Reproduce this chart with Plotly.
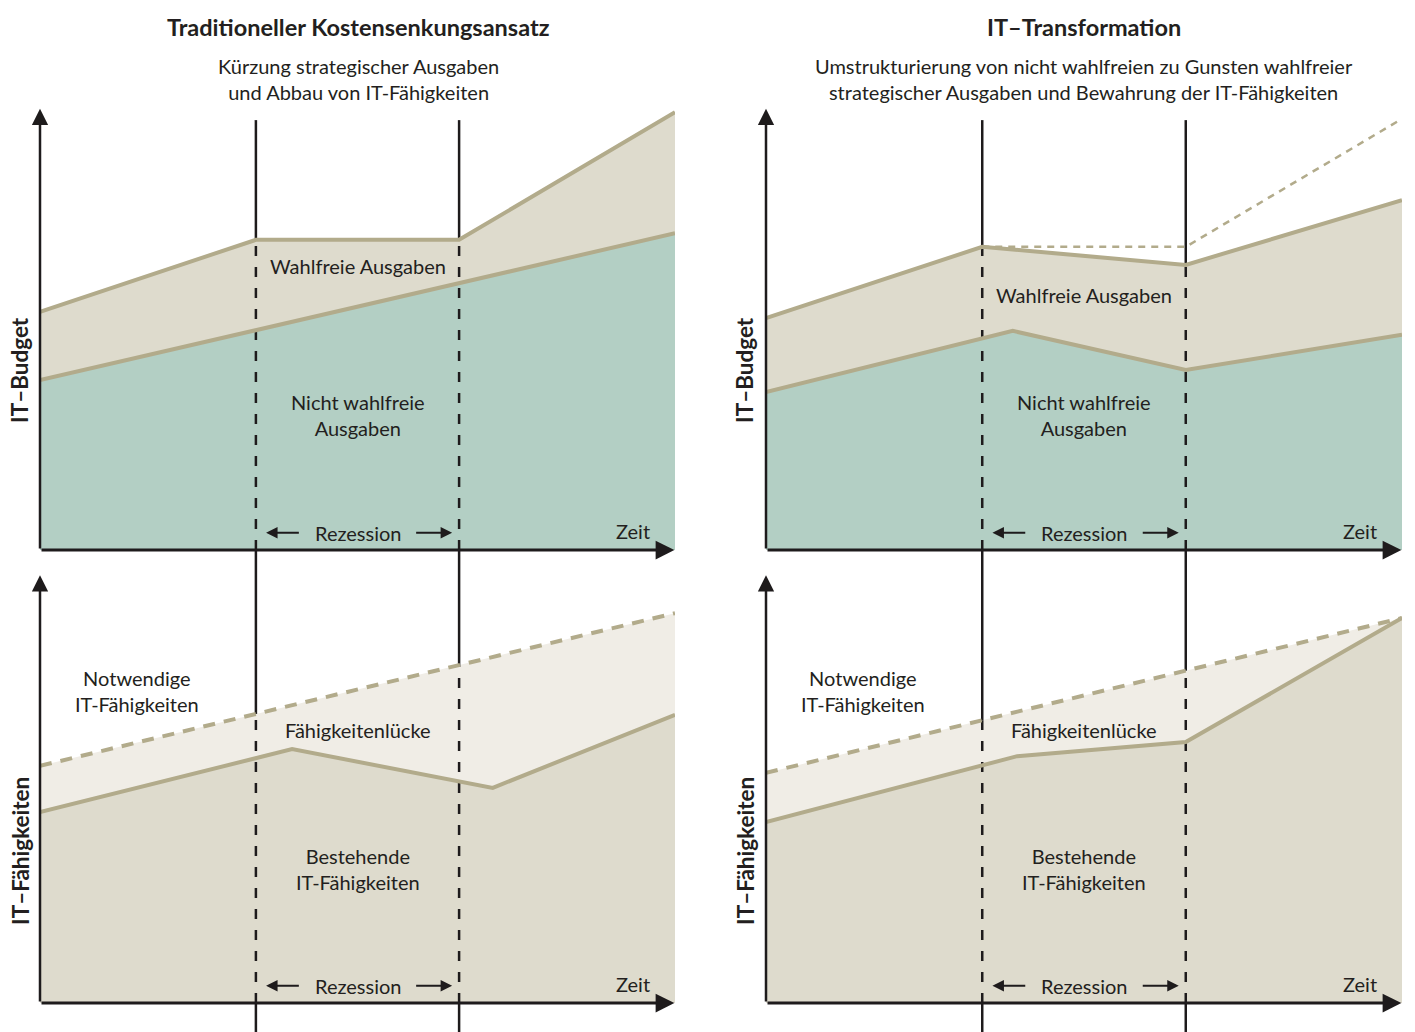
import numpy as np
import plotly.graph_objects as go

# ---------------- data (time 0..100, value units) ----------------
RECESSION = [34, 66]
LINE_TOP = 97.7

lt_nd_t = [0, 100]
lt_nd_v = [38.6, 72.0]
lt_disc_t = [0, 34, 66, 100]
lt_disc_v = [54.1, 70.5, 70.5, 99.5]

lb_req_t = [0, 100]
lb_req_v = [53.9, 88.6]
lb_ex_t = [0, 39.7, 71.3, 100]
lb_ex_v = [43.4, 57.7, 48.9, 65.5]

rt_nd_t = [0, 38.8, 66, 100]
rt_nd_v = [35.9, 49.8, 40.9, 48.9]
rt_disc_t = [0, 34, 66, 100]
rt_disc_v = [52.7, 68.9, 64.8, 79.5]
rt_old_t = [34, 66, 100]
rt_old_v = [68.9, 68.9, 98.0]

rb_req_t = [0, 100]
rb_req_v = [52.3, 87.5]
rb_ex_t = [0, 39.5, 66, 100]
rb_ex_v = [41.1, 56.1, 59.3, 87.5]

# ---------------- styling ----------------
W, H = 1415, 1032
FONT = "Lato"
TXT = "#231f20"
TEAL = "#b3cfc4"
BEIGE = "#dedbcd"
LIGHT = "#f0ede6"
TAN = "#b2ab8b"
BLACK = "#1e1b1c"
SCALE = 4.4          # px per value unit
TOP_BASE, BOT_BASE, GAP, TOP_EDGE = 550, 1003, 562, 100
COLS = {"L": (40, 675), "R": (766, 1402)}

def p(py):
    return 1 - py / H

fig = go.Figure()
layout_axes = {}
top_range = [(TOP_BASE - GAP) / SCALE, (TOP_BASE - TOP_EDGE) / SCALE]
bot_range = [(BOT_BASE - H) / SCALE, (BOT_BASE - GAP) / SCALE]
axdefs = [(1, "L", True), (2, "L", False), (3, "R", True), (4, "R", False)]
for i, col, top in axdefs:
    x0, x1 = COLS[col]
    layout_axes[f"xaxis{i if i > 1 else ''}"] = dict(
        domain=[x0 / W, x1 / W], range=[0, 100], visible=False, fixedrange=True,
        anchor=f"y{i if i > 1 else ''}")
    layout_axes[f"yaxis{i if i > 1 else ''}"] = dict(
        domain=[p(GAP), p(TOP_EDGE)] if top else [0, p(GAP)],
        range=top_range if top else bot_range, visible=False, fixedrange=True,
        anchor=f"x{i if i > 1 else ''}")

def ax(i):
    s = "" if i == 1 else str(i)
    return dict(xaxis="x" + s, yaxis="y" + s)

def fill_between(i, lo_t, lo_v, hi_t, hi_v, color):
    xs = list(hi_t) + list(lo_t)[::-1]
    ys = list(hi_v) + list(lo_v)[::-1]
    fig.add_trace(go.Scatter(x=xs, y=ys, fill="toself", fillcolor=color,
                             line=dict(width=0), mode="lines", hoverinfo="skip",
                             showlegend=False, **ax(i)))

def line(i, t, v, color, width, dash="solid"):
    fig.add_trace(go.Scatter(x=t, y=v, mode="lines",
                             line=dict(color=color, width=width, dash=dash),
                             hoverinfo="skip", showlegend=False, **ax(i)))

# fills
fill_between(1, [0, 100], [0, 0], lt_nd_t, lt_nd_v, TEAL)
fill_between(1, lt_nd_t, lt_nd_v, lt_disc_t, lt_disc_v, BEIGE)
fill_between(2, [0, 100], [0, 0], lb_ex_t, lb_ex_v, BEIGE)
fill_between(2, lb_ex_t, lb_ex_v, lb_req_t, lb_req_v, LIGHT)
fill_between(3, [0, 100], [0, 0], rt_nd_t, rt_nd_v, TEAL)
fill_between(3, rt_nd_t, rt_nd_v, rt_disc_t, rt_disc_v, BEIGE)
fill_between(4, [0, 100], [0, 0], rb_ex_t, rb_ex_v, BEIGE)
fill_between(4, rb_ex_t, rb_ex_v, rb_req_t, rb_req_v, LIGHT)

# recession markers
DASH = "10px,11px"
for top_i, bot_i, disc_t, disc_v, req_t, req_v in [
        (1, 2, lt_disc_t, lt_disc_v, lb_req_t, lb_req_v),
        (3, 4, rt_disc_t, rt_disc_v, rb_req_t, rb_req_v)]:
    for t in RECESSION:
        yt = float(np.interp(t, disc_t, disc_v))
        line(top_i, [t, t], [yt, LINE_TOP], BLACK, 2.5)
        line(top_i, [t, t], [0, yt], BLACK, 2.5, DASH)
        line(top_i, [t, t], [top_range[0], 0], BLACK, 2.5)
        yb = float(np.interp(t, req_t, req_v))
        line(bot_i, [t, t], [yb, bot_range[1]], BLACK, 2.5)
        line(bot_i, [t, t], [0, yb], BLACK, 2.5, DASH)
        line(bot_i, [t, t], [bot_range[0], 0], BLACK, 2.5)

# boundary lines
line(1, lt_nd_t, lt_nd_v, TAN, 4)
line(1, lt_disc_t, lt_disc_v, TAN, 4)
line(2, lb_ex_t, lb_ex_v, TAN, 4)
line(2, lb_req_t, lb_req_v, TAN, 4, "12px,9px")
line(3, rt_nd_t, rt_nd_v, TAN, 4)
line(3, rt_disc_t, rt_disc_v, TAN, 4)
line(3, rt_old_t, rt_old_v, TAN, 2.5, "7px,6px")
line(4, rb_ex_t, rb_ex_v, TAN, 4)
line(4, rb_req_t, rb_req_v, TAN, 4, "12px,9px")

annotations = []

def arrow(i, x, y, axv, ayv, width, size):
    s = "" if i == 1 else str(i)
    annotations.append(dict(x=x, y=y, ax=axv, ay=ayv, xref="x" + s, yref="y" + s,
                            axref="x" + s, ayref="y" + s, text="", showarrow=True,
                            arrowhead=2, arrowsize=size, arrowwidth=width,
                            arrowcolor=BLACK, standoff=0, startstandoff=0))

def text(i, x, y, s, size=20, **kw):
    r = "" if i == 1 else str(i)
    annotations.append(dict(x=x, y=y, xref="x" + r, yref="y" + r, text=s,
                            showarrow=False, font=dict(family=FONT, size=size, color=TXT),
                            **kw))

# axes arrows
for i, top in [(1, True), (2, False), (3, True), (4, False)]:
    arrow(i, 99.9, 0, 0, 0, 3, 1.25)
    arrow(i, 0, 100.3 if top else 97.2, 0, 0, 2.5, 1.3)
    # recession arrows
    arrow(i, 35.6, 3.9, 41.0, 3.9, 2, 1.15)
    arrow(i, 64.9, 3.9, 59.0, 3.9, 2, 1.15)
    text(i, 50, 3.9, "Rezession")
    text(i, 93.4, 4.3, "Zeit")

# region labels
text(1, 50, 64.5, "Wahlfreie Ausgaben")
text(1, 50, 30.7, "Nicht wahlfreie<br>Ausgaben")
text(2, 15.3, 70.9, "Notwendige<br>IT-Fähigkeiten")
text(2, 50, 62.0, "Fähigkeitenlücke")
text(2, 50, 30.5, "Bestehende<br>IT-Fähigkeiten")
text(3, 50, 58.0, "Wahlfreie Ausgaben")
text(3, 50, 30.7, "Nicht wahlfreie<br>Ausgaben")
text(4, 15.3, 70.9, "Notwendige<br>IT-Fähigkeiten")
text(4, 50, 62.0, "Fähigkeitenlücke")
text(4, 50, 30.5, "Bestehende<br>IT-Fähigkeiten")

# titles / subtitles / axis titles (paper)
def ptext(px, py, s, size, angle=0):
    annotations.append(dict(x=px / W, y=p(py), xref="paper", yref="paper", text=s,
                            showarrow=False, textangle=angle,
                            font=dict(family=FONT, size=size, color=TXT),
                            xanchor="center", yanchor="middle"))

ptext(358, 27, "<b>Traditioneller Kostensenkungsansatz</b>", 23.5)
ptext(358, 79, "Kürzung strategischer Ausgaben<br>und Abbau von IT-Fähigkeiten", 20)
ptext(1084, 27, "<b>IT–Transformation</b>", 23.5)
ptext(1084, 79, "Umstrukturierung von nicht wahlfreien zu Gunsten wahlfreier<br>"
                "strategischer Ausgaben und Bewahrung der IT-Fähigkeiten", 20)
ptext(20, 370, "<b>IT–Budget</b>", 22.5, -90)
ptext(20, 851, "<b>IT–Fähigkeiten</b>", 22.5, -90)
ptext(745, 370, "<b>IT–Budget</b>", 22.5, -90)
ptext(745, 851, "<b>IT–Fähigkeiten</b>", 22.5, -90)

fig.update_layout(width=W, height=H, margin=dict(l=0, r=0, t=0, b=0),
                  paper_bgcolor="white", plot_bgcolor="rgba(0,0,0,0)",
                  hovermode=False, annotations=annotations, **layout_axes)

fig.write_html("out.html", config={"displayModeBar": False},
               post_script="document.body.style.margin='0';document.body.style.overflow='hidden';")
